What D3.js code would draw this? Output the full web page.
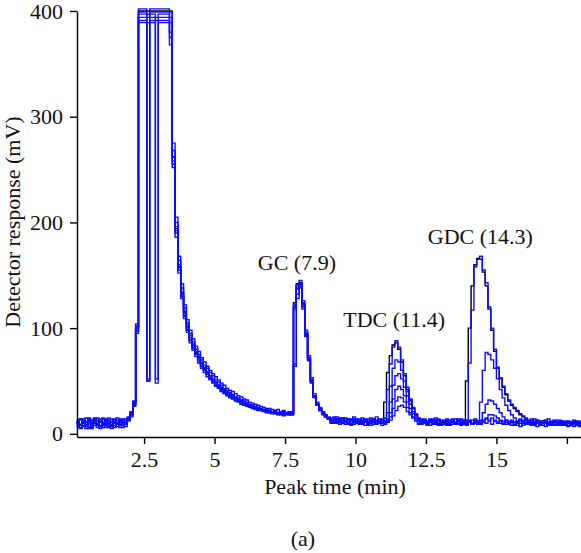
<!DOCTYPE html>
<html>
<head>
<meta charset="utf-8">
<script src="https://cdn.jsdelivr.net/npm/d3@7"></script>
<style>
  html, body { margin: 0; padding: 0; background: #ffffff; }
  svg { display: block; }
</style>
</head>
<body>
<svg id="chart" width="581" height="553"></svg>
<script>
const sampleStart = 0.1;
const sampleStep = 0.1;

const xTicks = [2.5, 5, 7.5, 10, 12.5, 15, 17.5];
const xTickLabels = ["2.5", "5", "7.5", "10", "12.5", "15", ""];
const yTicks = [0, 100, 200, 300, 400];

const peakLabels = ["GC (7.9)", "TDC (11.4)", "GDC (14.3)"];
const peakLabelTimes = [7.92, 11.37, 14.43];
const peakLabelValues = [155, 101, 180];

const traceBlack = [
  11, 9, 13, 7, 12, 10, 14, 8, 12, 9,
  13, 10, 8, 12, 9, 13, 11, 10, 14, 19,
  30, 101, 400, 400, 400, 400, 400, 400, 400, 400,
  400, 400, 400, 400, 262, 194, 158, 133, 114, 101,
  91, 84, 77, 72, 67, 62, 58, 55, 51, 48,
  46, 43, 41, 39, 37, 35, 34, 32, 31, 29,
  28, 27, 26, 25, 24, 23, 22, 22, 21, 21,
  20, 20, 19, 20, 19, 20, 19, 124, 142, 143,
  123, 95, 72, 50, 36, 28, 23, 20, 17, 15,
  13, 12, 14, 11, 13, 12, 10, 13, 12, 11,
  12, 11, 13, 10, 12, 11, 13, 12, 11, 30,
  58, 74, 84, 86, 80, 68, 55, 42, 32, 24,
  18, 14, 12, 13, 11, 12, 11, 13, 10, 12,
  11, 12, 10, 12, 11, 12, 11, 12, 50, 100,
  140, 160, 166, 165, 153, 140, 118, 98, 78, 62,
  52, 44, 37, 31, 27, 24, 21, 18, 16, 14,
  12, 11, 12, 10, 11, 12, 10, 11, 10, 11,
  10, 11, 10, 11, 10, 9, 11, 10, 11, 10
];

const traceBlue1 = [
  12, 6, 14, 9, 15, 7, 13, 10, 5, 14,
  8, 15, 11, 6, 13, 9, 14, 12, 16, 20,
  30, 102, 402, 402, 402, 50, 402, 402, 402, 402,
  402, 402, 402, 380, 275, 205, 168, 142, 122, 108,
  98, 90, 83, 78, 72, 68, 64, 60, 57, 54,
  51, 48, 46, 43, 41, 40, 38, 36, 35, 33,
  32, 30, 29, 28, 27, 26, 25, 24, 24, 23,
  22, 23, 21, 22, 20, 21, 20, 122, 141, 145,
  124, 98, 74, 53, 38, 30, 25, 21, 18, 16,
  15, 13, 16, 12, 15, 11, 14, 12, 16, 13,
  11, 15, 12, 14, 10, 13, 16, 11, 13, 15,
  42, 66, 82, 88, 82, 70, 57, 44, 33, 25,
  19, 15, 12, 14, 10, 13, 11, 15, 9, 13,
  11, 14, 10, 13, 9, 12, 14, 10, 12, 67,
  117, 158, 165, 168, 155, 143, 120, 100, 80, 63,
  53, 45, 38, 32, 28, 25, 22, 19, 17, 15,
  12, 14, 10, 13, 9, 12, 11, 14, 8, 12,
  10, 13, 9, 12, 8, 11, 13, 9, 12, 10
];

const traceBlue2 = [
  9, 14, 7, 12, 5, 13, 10, 15, 8, 11,
  14, 7, 12, 10, 15, 8, 13, 10, 15, 19,
  28, 98, 399, 399, 399, 52, 399, 399, 399, 399,
  399, 399, 399, 399, 262, 196, 160, 134, 116, 103,
  93, 85, 78, 73, 67, 63, 59, 55, 52, 49,
  46, 44, 42, 40, 38, 36, 34, 33, 31, 30,
  29, 27, 27, 25, 25, 23, 23, 22, 22, 21,
  21, 19, 21, 19, 20, 19, 21, 66, 132, 142,
  126, 96, 72, 50, 36, 28, 24, 20, 17, 15,
  12, 16, 11, 14, 10, 15, 12, 9, 14, 11,
  14, 10, 13, 9, 15, 11, 12, 14, 10, 12,
  20, 45, 62, 70, 68, 60, 50, 40, 31, 24,
  18, 14, 11, 13, 9, 12, 14, 10, 13, 9,
  12, 9, 13, 11, 14, 10, 12, 9, 13, 11,
  10, 14, 12, 30, 60, 77, 75, 70, 62, 52,
  42, 34, 27, 22, 18, 15, 12, 14, 10, 13,
  9, 12, 14, 10, 12, 8, 13, 11, 9, 12,
  13, 9, 11, 8, 12, 10, 7, 11, 9, 12
];

const traceBlue3 = [
  11, 5, 12, 8, 14, 6, 11, 13, 7, 10,
  6, 12, 9, 14, 7, 11, 8, 14, 13, 17,
  26, 95, 397, 397, 397, 397, 397, 397, 48, 397,
  397, 397, 397, 368, 255, 190, 155, 130, 111, 98,
  88, 81, 75, 69, 64, 60, 56, 52, 49, 46,
  44, 41, 39, 37, 35, 34, 32, 31, 29, 28,
  27, 26, 25, 24, 23, 22, 22, 21, 20, 20,
  19, 20, 18, 19, 18, 20, 18, 120, 138, 140,
  120, 94, 70, 49, 35, 27, 22, 19, 16, 14,
  13, 10, 14, 11, 15, 9, 13, 10, 12, 14,
  9, 13, 11, 8, 12, 14, 10, 13, 8, 12,
  14, 30, 46, 55, 57, 52, 44, 36, 28, 21,
  17, 13, 10, 12, 8, 11, 13, 9, 12, 10,
  13, 8, 11, 14, 10, 12, 8, 13, 10, 12,
  9, 13, 11, 10, 20, 28, 32, 31, 28, 24,
  20, 16, 13, 10, 12, 9, 11, 13, 8, 11,
  13, 9, 11, 7, 12, 10, 13, 8, 11, 9,
  11, 8, 12, 10, 7, 11, 9, 12, 8, 10
];

const traceBlue4 = [
  7, 13, 10, 5, 12, 9, 15, 6, 12, 8,
  12, 9, 5, 13, 10, 6, 12, 9, 14, 18,
  29, 100, 394, 394, 394, 394, 394, 394, 394, 394,
  394, 394, 394, 394, 258, 192, 157, 131, 112, 99,
  89, 82, 76, 70, 65, 61, 57, 53, 50, 47,
  45, 42, 40, 38, 36, 34, 33, 31, 30, 29,
  28, 26, 25, 24, 24, 23, 22, 21, 21, 20,
  21, 19, 20, 18, 20, 19, 18, 118, 140, 138,
  118, 92, 69, 48, 34, 27, 23, 19, 16, 14,
  10, 14, 12, 9, 13, 11, 14, 8, 12, 10,
  13, 11, 8, 12, 10, 14, 9, 11, 13, 10,
  12, 20, 33, 42, 45, 42, 36, 30, 24, 19,
  15, 12, 9, 13, 11, 8, 12, 10, 14, 9,
  10, 12, 9, 12, 10, 13, 9, 11, 8, 12,
  10, 11, 9, 12, 13, 15, 18, 18, 17, 15,
  12, 10, 13, 9, 11, 8, 12, 10, 13, 9,
  11, 8, 10, 12, 9, 11, 7, 10, 12, 8,
  9, 12, 10, 8, 11, 9, 12, 8, 10, 11
];

const traceBlue5 = [
  13, 8, 11, 15, 6, 10, 8, 12, 14, 6,
  10, 13, 7, 11, 9, 14, 6, 11, 12, 16,
  27, 97, 391, 391, 391, 50, 391, 391, 391, 391,
  391, 391, 391, 375, 268, 200, 164, 138, 119, 105,
  95, 87, 80, 75, 70, 65, 62, 58, 55, 51,
  49, 46, 43, 41, 39, 37, 35, 34, 32, 31,
  30, 28, 27, 26, 25, 24, 23, 23, 22, 21,
  22, 20, 19, 21, 19, 18, 19, 64, 128, 139,
  122, 95, 71, 51, 36, 28, 23, 20, 17, 15,
  14, 11, 13, 15, 10, 12, 9, 14, 11, 13,
  10, 12, 14, 10, 13, 9, 12, 10, 14, 11,
  12, 16, 24, 31, 35, 34, 30, 25, 20, 16,
  13, 10, 14, 11, 9, 13, 10, 12, 8, 11,
  9, 13, 12, 9, 11, 14, 10, 13, 9, 11,
  13, 10, 12, 9, 12, 14, 13, 15, 12, 10,
  13, 9, 11, 12, 8, 11, 10, 7, 12, 9,
  10, 13, 8, 11, 9, 12, 10, 8, 11, 13,
  8, 10, 12, 9, 11, 8, 10, 12, 7, 10
];

const traceBlue6 = [
  10, 14, 8, 11, 13, 5, 12, 9, 11, 15,
  9, 6, 14, 8, 11, 12, 10, 7, 15, 21,
  31, 104, 389, 389, 389, 389, 389, 389, 52, 389,
  389, 389, 389, 389, 252, 186, 152, 128, 109, 96,
  86, 79, 73, 67, 62, 58, 54, 51, 48, 45,
  43, 40, 38, 36, 34, 33, 31, 30, 28, 27,
  26, 25, 24, 23, 22, 22, 21, 20, 20, 19,
  20, 18, 19, 17, 19, 18, 20, 121, 137, 141,
  121, 93, 70, 49, 35, 27, 22, 18, 16, 14,
  11, 15, 10, 13, 11, 14, 10, 13, 9, 12,
  12, 9, 13, 11, 8, 12, 10, 13, 11, 9,
  11, 13, 17, 22, 26, 27, 25, 21, 18, 15,
  12, 9, 13, 10, 12, 14, 9, 11, 13, 8,
  11, 10, 8, 12, 10, 9, 13, 11, 10, 13,
  9, 12, 10, 13, 11, 10, 12, 9, 13, 11,
  10, 12, 9, 10, 13, 11, 8, 12, 10, 9,
  12, 10, 9, 13, 8, 10, 12, 9, 10, 11,
  10, 11, 8, 10, 12, 9, 11, 10, 8, 11
];

const traces = [
  { values: traceBlack, color: "#000000" },
  { values: traceBlue6, color: "#0c0cff" },
  { values: traceBlue5, color: "#0c0cff" },
  { values: traceBlue4, color: "#0c0cff" },
  { values: traceBlue3, color: "#0c0cff" },
  { values: traceBlue2, color: "#0c0cff" },
  { values: traceBlue1, color: "#0c0cff" }
];

// ---- Drawing ----
const svg = d3.select("#chart");
const FONT = 22;
const SERIF = "'Liberation Serif', 'Times New Roman', 'DejaVu Serif', serif";

const x = d3.scaleLinear().domain([0.12, 18]).range([77, 581]);
const y = d3.scaleLinear().domain([-3, 400]).range([437, 11]);

const line = d3.line()
  .x(d => x(d.t))
  .y(d => y(d.v))
  .curve(d3.curveStepAfter);

traces.forEach(tr => {
  const pts = tr.values.map((v, i) => ({ t: sampleStart + i * sampleStep, v }));
  svg.append("path")
    .datum(pts)
    .attr("d", line)
    .attr("fill", "none")
    .attr("stroke", tr.color)
    .attr("stroke-width", 1.4);
});

// axes
const xAxis = d3.axisBottom(x)
  .tickValues(xTicks)
  .tickFormat((d, i) => xTickLabels[i])
  .tickSizeInner(7).tickSizeOuter(0).tickPadding(7);
const gx = svg.append("g").attr("transform", "translate(0,437)").call(xAxis);

const yAxis = d3.axisLeft(y)
  .tickValues(yTicks)
  .tickFormat(d3.format("d"))
  .tickSizeInner(7).tickSizeOuter(0).tickPadding(7);
const gy = svg.append("g").attr("transform", "translate(77,0)").call(yAxis);

[gx, gy].forEach(g => {
  g.attr("font-family", SERIF).attr("font-size", FONT);
  g.select(".domain").attr("stroke", "#000").attr("stroke-width", 1.4);
  g.selectAll(".tick line").attr("stroke", "#000").attr("stroke-width", 1.4);
  g.selectAll(".tick text")
    .attr("font-family", SERIF)
    .attr("font-size", FONT)
    .attr("fill", "#111");
});

// axis titles
svg.append("text")
  .attr("x", 335).attr("y", 494)
  .attr("text-anchor", "middle")
  .attr("font-family", SERIF)
  .attr("font-size", FONT)
  .attr("fill", "#111")
  .text("Peak time (min)");

svg.append("text")
  .attr("transform", "translate(20,222) rotate(-90)")
  .attr("text-anchor", "middle")
  .attr("font-family", SERIF)
  .attr("font-size", FONT)
  .attr("fill", "#111")
  .text("Detector response (mV)");

svg.append("text")
  .attr("x", 303).attr("y", 546)
  .attr("text-anchor", "middle")
  .attr("font-family", SERIF)
  .attr("font-size", FONT)
  .attr("fill", "#111")
  .text("(a)");

// peak annotations
peakLabels.forEach((lab, i) => {
  svg.append("text")
    .attr("x", x(peakLabelTimes[i]))
    .attr("y", y(peakLabelValues[i]))
    .attr("text-anchor", "middle")
    .attr("font-family", SERIF)
    .attr("font-size", FONT)
    .attr("fill", "#111")
    .text(lab);
});
</script>
</body>
</html>
